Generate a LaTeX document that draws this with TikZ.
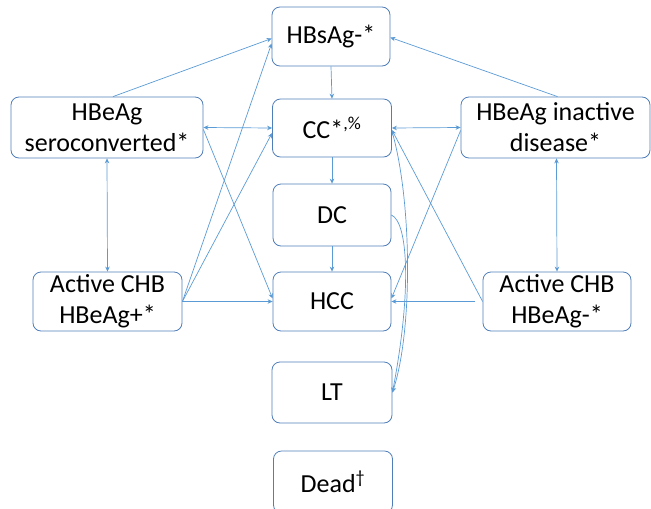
\documentclass[tikz,border=0pt]{standalone}
\usepackage{fontspec}
\setmainfont{Carlito}
\usetikzlibrary{arrows.meta}
\definecolor{linec}{RGB}{91,155,213}
\definecolor{boxc}{RGB}{80,126,185}
\begin{document}
\begin{tikzpicture}[x=1pt,y=-1pt,
  box/.style={draw=boxc, line width=0.8pt, rounded corners=8pt, align=center,
    inner sep=0pt, font=\fontsize{26}{31}\selectfont, text=black},
  arr/.style={draw=linec, line width=0.7pt, -{Stealth[length=5pt,width=4.5pt]}},
  darr/.style={draw=linec, line width=0.7pt, {Stealth[length=5pt,width=4.5pt]}-{Stealth[length=5pt,width=4.5pt]}}]
\useasboundingbox (0,0) rectangle (651,509);
\node[box, minimum width=118pt, minimum height=59pt] (hbs) at (331,36.5) {HBsAg-*};
\node[box, minimum width=192pt, minimum height=61pt] (ser) at (107,127.5) {HBeAg\\seroconverted*};
\node[box, minimum width=119pt, minimum height=58pt] (cc) at (332,128) {CC*\textsuperscript{,\%}};
\node[box, minimum width=189pt, minimum height=61pt] (ina) at (555.5,127.5) {HBeAg inactive\\disease*};
\node[box, minimum width=118pt, minimum height=62pt] (dc) at (332,215) {DC};
\node[box, minimum width=149pt, minimum height=59pt] (apos) at (107.5,301.5) {Active CHB\\HBeAg+*};
\node[box, minimum width=118pt, minimum height=59pt] (hcc) at (332,301.5) {HCC};
\node[box, minimum width=148pt, minimum height=59pt] (aneg) at (557,301.5) {Active CHB\\HBeAg-*};
\node[box, minimum width=120pt, minimum height=61pt] (lt) at (332,392.5) {LT};
\node[box, minimum width=119pt, minimum height=62pt] (dead) at (333,482) {Dead\textsuperscript{\textdagger}};

% top connections
\draw[arr] ([xshift=6pt]ser.north) -- ([yshift=-2pt]hbs.west);
\draw[arr] ([xshift=2pt]ina.north) -- ([yshift=-1pt]hbs.east);
\draw[arr] (hbs.south) -- (cc.north);
% horizontal double arrows
\draw[darr] (ser.east) -- (cc.west);
\draw[darr] (cc.east) -- (ina.west);
% vertical double arrows
\draw[darr] (ser.south) -- (apos.north);
\draw[darr] ([xshift=1pt]ina.south) -- (aneg.north);
% centre column
\draw[arr] (cc.south) -- (dc.north);
\draw[arr] (dc.south) -- (hcc.north);
% left crossings
\draw[arr] ([yshift=-2pt]ser.east) -- ([yshift=3pt]hcc.west);
\draw[arr] (apos.east) -- ([yshift=-7pt]hbs.west);
\draw[arr] (apos.east) -- ([yshift=-5pt]cc.west);
\draw[arr] (apos.east) -- (hcc.west);
% right crossings
\draw[arr] (aneg.west) -- ([yshift=-2pt]cc.east);
\draw[arr] ([xshift=-8pt]aneg.west) -- (hcc.east);
\draw[arr] ([yshift=-3pt]ina.west) -- ([yshift=3pt]hcc.east);
% curves to LT
\draw[arr] ([yshift=-3pt]cc.east) .. controls (412,200) and (413,330) .. (lt.east);
\draw[arr] (dc.east) .. controls (408,222) and (412,290) .. (lt.east);
\end{tikzpicture}
\end{document}
